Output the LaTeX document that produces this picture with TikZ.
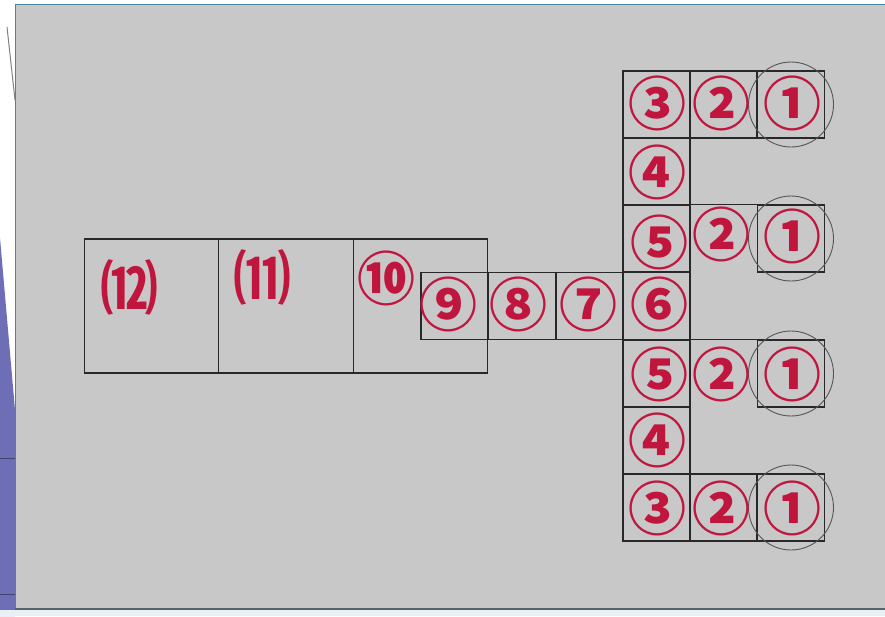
\documentclass[tikz,border=0pt]{standalone}
\usepackage{fontspec}
\newfontfamily\cjk{Noto Sans CJK SC}
\definecolor{bggray}{RGB}{200,200,200}
\definecolor{slidepurple}{RGB}{110,110,182}
\definecolor{stripblue}{RGB}{232,242,246}
\definecolor{frameblue}{RGB}{70,135,160}
\definecolor{framegray}{RGB}{88,98,108}
\definecolor{cellline}{RGB}{40,40,40}
\definecolor{glyphred}{RGB}{192,22,62}
\definecolor{ringgray}{RGB}{85,85,85}
\begin{document}
\begin{tikzpicture}[x=1pt,y=-1pt,
  cell/.style={rectangle, minimum size=67pt, inner sep=0pt, draw=cellline, line width=1.3pt},
  opencell/.style={rectangle, minimum size=67pt, inner sep=0pt},
  bigbox/.style={rectangle, minimum width=134.5pt, minimum height=134pt, inner sep=0pt, draw=cellline, line width=1.3pt},
  num/.style={inner sep=0pt, text=glyphred, font=\cjk\bfseries\fontsize{58}{58}\selectfont},
  ring/.style={circle, minimum size=85pt, inner sep=0pt, draw=ringgray, line width=0.9pt}]
\useasboundingbox (0,0) rectangle (885,616);
% surroundings
\fill[white] (0,0) rectangle (885,616);
\fill[slidepurple] (0,238) -- (15,410) -- (15,616) -- (0,616) -- cycle;
\draw[slidepurple!60!black, line width=0.6pt] (0,458) -- (15,458);
\draw[slidepurple!60!black, line width=0.6pt] (0,594) -- (15,594);
\draw[gray, line width=1pt] (7,27) -- (15,100);
\fill[stripblue] (0,610) rectangle (885,616);
% slide frame
\fill[bggray] (16,5) rectangle (885,608);
\draw[frameblue, line width=1.6pt] (15,4.5) -- (885,4.5);
\draw[frameblue, line width=1.2pt] (15.6,4) -- (15.6,609);
\draw[framegray, line width=2.2pt] (15,608.6) -- (885,608.6);

% big boxes
\node[bigbox] (b12) at (151.5,306) {};
\node[bigbox] (b11) at (286,306) {};
\node[bigbox] (b10) at (420.5,306) {};
% horizontal arm
\node[cell] (c9) at (454.5,306) {};
\node[cell] (c8) at (522,306) {};
\node[cell] (c7) at (589.5,306) {};
% vertical column
\node[cell] (t3) at (656.5,104.5) {};
\node[cell] (t2) at (723.5,104.5) {};
\node[cell] (t1) at (791,104.5) {};
\node[cell] (u4) at (656.5,171.5) {};
\node[cell] (u5) at (656.5,238.5) {};
\node[opencell] (u2) at (723.5,238.5) {};
\node[cell] (u1) at (791,238.5) {};
\node[cell] (m6) at (656.5,306) {};
\node[cell] (l5) at (656.5,373.5) {};
\node[opencell] (l2) at (723.5,373.5) {};
\node[cell] (l1) at (791,373.5) {};
\node[cell] (l4) at (656.5,440.5) {};
\node[cell] (d3) at (656.5,507.5) {};
\node[cell] (d2) at (723.5,507.5) {};
\node[cell] (d1) at (791,507.5) {};
\draw[cellline, line width=1.3pt] (u2.north west) -- (u2.north east);
\draw[cellline, line width=1.3pt] (l2.north west) -- (l2.north east);
% rings round the (1) cells
\node[ring] (rt) at (t1) {};
\node[ring] (ru) at (u1) {};
\node[ring] (rl) at (l1) {};
\node[ring] (rd) at (d1) {};

% labels
\node[num] (n12) at (129,287) {⑿};
\node[num] (n11) at (262,277) {⑾};
\node[num] (n10) at (386,278) {⑩};
\node[num] (n9) at (448,304) {⑨};
\node[num] (n8) at (518,304) {⑧};
\node[num] (n7) at (588,304) {⑦};
\node[num] (nt3) at (657,103) {③};
\node[num] (nt2) at (721,103) {②};
\node[num] (nt1) at (792,103) {①};
\node[num] (nu4) at (657,172) {④};
\node[num] (nu5) at (659,242) {⑤};
\node[num] (nu2) at (721,234) {②};
\node[num] (nu1) at (792,236) {①};
\node[num] (nm6) at (659,304) {⑥};
\node[num] (nl5) at (659,374) {⑤};
\node[num] (nl2) at (721,374) {②};
\node[num] (nl1) at (792,374) {①};
\node[num] (nl4) at (657,440) {④};
\node[num] (nd3) at (657,508) {③};
\node[num] (nd2) at (721,508) {②};
\node[num] (nd1) at (792,508) {①};
\end{tikzpicture}
\end{document}
